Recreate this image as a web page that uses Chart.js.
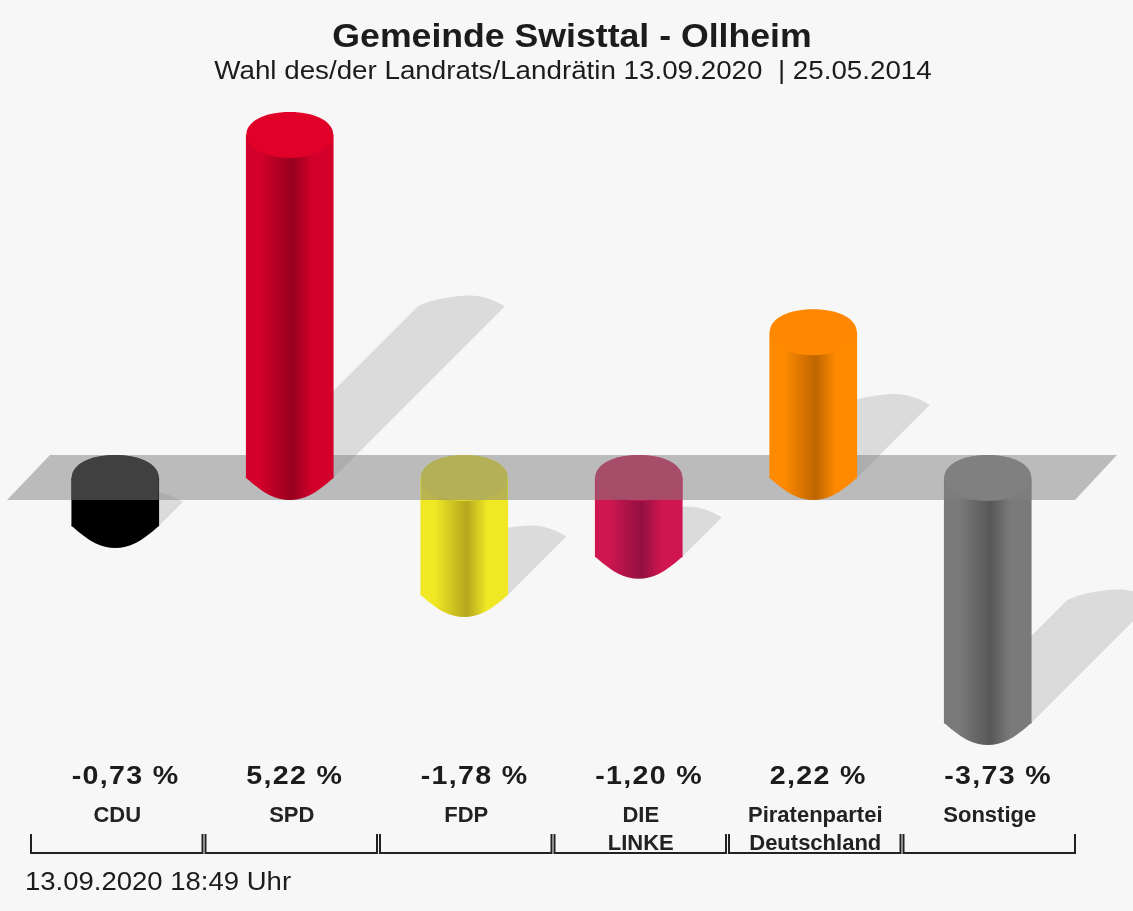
<!DOCTYPE html>
<html><head><meta charset="utf-8">
<style>html,body{margin:0;padding:0;background:#f7f7f7}#w{width:1133px;height:911px}canvas{display:block}</style>
<script src="https://cdn.jsdelivr.net/npm/chart.js@4/dist/chart.umd.min.js"></script>
</head><body><div id="w"><canvas id="c" width="1133" height="911"></canvas></div>
<script>
const categories = ["CDU","SPD","FDP",["DIE","LINKE"],["Piratenpartei","Deutschland"],"Sonstige"];
const values = [-0.73,5.22,-1.78,-1.20,2.22,-3.73];
const edgeColors = ["#000000","#d2002a","#f0e824","#cf1650","#ff8a00","#7a7a7a"];
const darkColors = ["#000000","#98001e","#b5a61e","#921040","#bd6500","#585858"];
const capColors  = ["#000000","#e00028","#e8e030","#cc1a55","#ff8800","#808080"];
const titleText = "Gemeinde Swisttal - Ollheim";
const subtitleText = "Wahl des/der Landrats/Landrätin 13.09.2020  | 25.05.2014";
const footerText = "13.09.2020 18:49 Uhr";
const FONT = '"Liberation Sans", Arial, sans-serif';
const BAR_W = 87, CAP_RY = 23, BOTTOM_RY = 22;

function barGradient(ctx, cx, i){
  const g = ctx.createLinearGradient(cx-BAR_W/2,0,cx+BAR_W/2,0);
  g.addColorStop(0,edgeColors[i]);
  g.addColorStop(0.16,edgeColors[i]);
  g.addColorStop(0.53,darkColors[i]);
  g.addColorStop(0.76,edgeColors[i]);
  g.addColorStop(1,edgeColors[i]);
  return g;
}
function bottomCap(ctx,cx,c){
  const l=cx-BAR_W/2, r=cx+BAR_W/2;
  ctx.beginPath();
  ctx.moveTo(l,c-1);
  ctx.lineTo(l,c);
  ctx.bezierCurveTo(l+.2*BAR_W,c+.72*BOTTOM_RY,l+.34*BAR_W,c+BOTTOM_RY,cx,c+BOTTOM_RY);
  ctx.bezierCurveTo(r-.34*BAR_W,c+BOTTOM_RY,r-.2*BAR_W,c+.72*BOTTOM_RY,r,c);
  ctx.lineTo(r,c-1);
  ctx.closePath();
}
function upperCap(ctx,cx,c){
  const l=cx-BAR_W/2, r=cx+BAR_W/2, k=.59;
  ctx.moveTo(l,c);
  ctx.bezierCurveTo(l,c-k*CAP_RY,cx-k*BAR_W/2,c-CAP_RY,cx,c-CAP_RY);
  ctx.bezierCurveTo(cx+k*BAR_W/2,c-CAP_RY,r,c-k*CAP_RY,r,c);
}
function wideText(ctx,text,x,y,sx){
  ctx.save();
  ctx.translate(x,y);
  ctx.scale(sx,1);
  ctx.fillText(text,0,0);
  ctx.restore();
}
const cylinder3d = {
  id:'cylinder3d',
  beforeDraw(chart){
    const {ctx,width,height}=chart;
    ctx.save();ctx.fillStyle='#f7f7f7';ctx.fillRect(0,0,width,height);ctx.restore();
  },
  beforeDatasetsDraw(chart){
    const {ctx,scales:{x,y}}=chart;
    const zero=y.getPixelForValue(0);
    ctx.save();
    values.forEach((v,i)=>{
      const cx=x.getPixelForValue(i), vy=y.getPixelForValue(v);
      const h=Math.abs(vy-zero), base=Math.max(vy,zero), s=h/2;
      const l=cx-BAR_W/2, r=cx+BAR_W/2;
      ctx.beginPath();
      ctx.moveTo(l,base);
      ctx.lineTo(l+s,base-s);
      ctx.bezierCurveTo(l+s+12,base-s-7,cx+s-6,base-s-11,cx+s+8,base-s-11);
      ctx.bezierCurveTo(cx+s+24,base-s-11,r+s-8,base-s-5,r+s,base-s);
      ctx.lineTo(r,base);
      ctx.closePath();
      ctx.fillStyle='rgba(0,0,0,0.115)';
      ctx.fill();
    });
    const left=x.left, right=x.right;
    ctx.beginPath();
    ctx.moveTo(left-21,zero+22);
    ctx.lineTo(left+22,zero-23);
    ctx.lineTo(right+42,zero-23);
    ctx.lineTo(right,zero+22);
    ctx.closePath();
    ctx.fillStyle='rgba(128,128,128,0.5)';
    ctx.fill();
    ctx.restore();
  },
  afterDatasetsDraw(chart){
    const {ctx,scales:{x,y}}=chart;
    const zero=y.getPixelForValue(0);
    ctx.save();
    values.forEach((v,i)=>{
      const cx=x.getPixelForValue(i), vy=y.getPixelForValue(v);
      const g=barGradient(ctx,cx,i);
      const topC=Math.min(vy,zero), botC=Math.max(vy,zero);
      bottomCap(ctx,cx,botC); ctx.fillStyle=g; ctx.fill();
      ctx.beginPath();
      upperCap(ctx,cx,topC);
      ctx.ellipse(cx,topC,BAR_W/2,CAP_RY,0,0,Math.PI);
      ctx.closePath();
      ctx.fillStyle=capColors[i]; ctx.fill();
      if(v<0){
        ctx.beginPath();
        upperCap(ctx,cx,zero);
        ctx.lineTo(cx+BAR_W/2,zero+22);
        ctx.lineTo(cx-BAR_W/2,zero+22);
        ctx.closePath();
        ctx.fillStyle='rgba(128,128,128,0.5)';
        ctx.fill();
      }
    });
    ctx.restore();
  },
  afterDraw(chart){
    const {ctx,scales:{x}}=chart;
    const band=x.getPixelForValue(1)-x.getPixelForValue(0);
    ctx.save();
    ctx.fillStyle='#1c1c1c';
    ctx.textBaseline='alphabetic';
    ctx.textAlign='center';
    ctx.font='bold 33.5px '+FONT;
    wideText(ctx,titleText,572,47,1.064);
    ctx.font='25px '+FONT;
    wideText(ctx,subtitleText,573,79,1.11);
    ctx.textAlign='left';
    wideText(ctx,footerText,25,890,1.10);
    ctx.font='bold 26px '+FONT;
    ctx.letterSpacing='1.2px';
    values.forEach((v,i)=>{
      const cx=x.getPixelForValue(i);
      wideText(ctx,v.toFixed(2).replace('.',',')+' %',cx-BAR_W/2,784,1.1);
    });
    ctx.letterSpacing='0px';
    ctx.strokeStyle='#222';
    ctx.lineWidth=2;
    values.forEach((v,i)=>{
      const cx=x.getPixelForValue(i);
      const a=cx-band/2+3, b=cx+band/2;
      ctx.beginPath();
      ctx.moveTo(a,834);ctx.lineTo(a,853);ctx.lineTo(b,853);ctx.lineTo(b,834);
      ctx.stroke();
    });
    ctx.restore();
  }
};
new Chart(document.getElementById('c'),{
  type:'bar',
  data:{labels:categories,datasets:[{
    data:values,
    barThickness:BAR_W,
    borderWidth:0,
    backgroundColor(c){
      const ch=c.chart;
      if(!ch.chartArea) return edgeColors[c.dataIndex];
      return barGradient(ch.ctx,ch.scales.x.getPixelForValue(c.dataIndex),c.dataIndex);
    }
  }]},
  options:{
    responsive:false,animation:false,
    layout:{padding:{left:28,right:58,top:0,bottom:51}},
    plugins:{legend:{display:false},tooltip:{enabled:false},title:{display:false}},
    scales:{
      x:{
        grid:{display:false},border:{display:false},
        afterFit(s){s.height=60;},
        ticks:{color:'#222',padding:-6,labelOffset:2,maxRotation:0,autoSkip:false,
          font:{family:FONT,size:22,weight:'bold',lineHeight:1.27}}
      },
      y:{display:false,min:-322/65.7,max:478/65.7}
    }
  },
  plugins:[cylinder3d]
});
</script></body></html>
